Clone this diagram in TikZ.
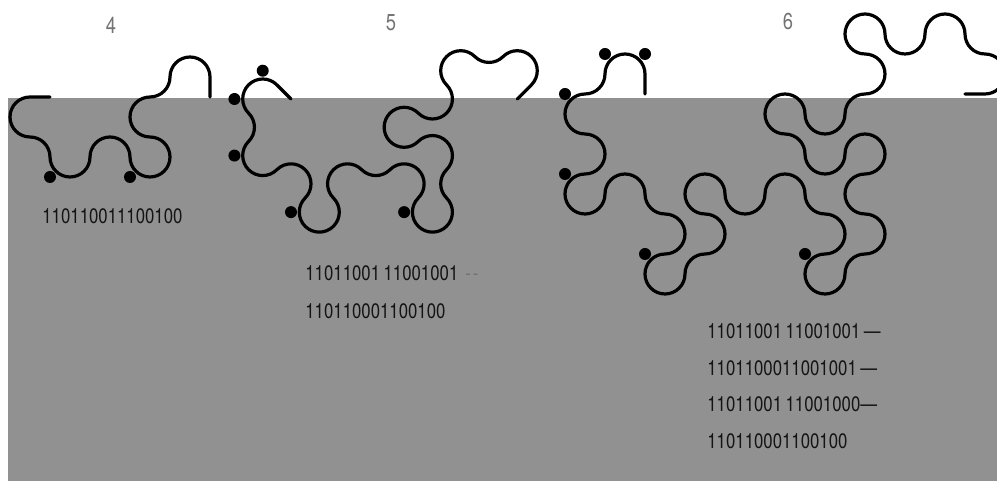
\documentclass[tikz,border=0pt]{standalone}
\usepackage{fontspec}
\newfontfamily\bitfont{TeX Gyre Heros}[FakeStretch=0.8]
\definecolor{paper}{gray}{0.57}
\tikzset{strip/.style={line width=1.6pt,rounded corners=10pt,line join=round,line cap=round},
 bits/.style={font=\bitfont\fontsize{10.5}{12}\selectfont,text=black!92,inner sep=0pt,anchor=west},
 ordno/.style={font=\bitfont\fontsize{11.5}{12}\selectfont,text=black!55,inner sep=0pt}}

\begin{document}
\begin{tikzpicture}[x=20pt,y=20pt]
\useasboundingbox(0,0)rectangle(24.925,12.025);\clip(0,0)rectangle(24.925,12.025);
\fill[paper](0.2,0)rectangle(24.925,9.575);
\node[ordno](lab4)at(2.775,11.4){4};\node[ordno](lab5)at(9.775,11.45){5};\node[ordno](lab6)at(19.7,11.475){6};
% order 4
\begin{scope}[shift={(1.25,9.6)},rotate=180]
\draw[strip](0,0)--(1,0)--(1,1)--(0,1)--(0,2)--(-1,2)--(-1,1)--(-2,1)--(-2,2)--(-3,2)--(-3,1)--(-2,1)--(-2,0)--(-3,0)--(-3,-1)--(-4,-1)--(-4,0);
\fill(0,2)circle(3pt)(-2,2)circle(3pt);
\end{scope}
\node[bits](bits4)at(1.05,6.625){110110011100100};
% order 5
\begin{scope}[shift={(7.275,9.55)},rotate=135]
\draw[strip](0,0)--(1,0)--(1,1)--(0,1)--(0,2)--(-1,2)--(-1,1)--(-2,1)--(-2,2)--(-3,2)--(-3,1)--(-2,1)--(-2,0)--(-3,0)--(-3,-1)--(-4,-1)--(-4,0)
 --(-5,0)--(-5,-1)--(-4,-1)--(-4,-2)--(-3,-2)--(-3,-1)--(-2,-1)--(-2,-2)--(-3,-2)--(-3,-3)--(-2,-3)--(-2,-4)--(-3,-4)--(-3,-5)--(-4,-5)--(-4,-4);
\fill(1,0)circle(3pt)(1,1)circle(3pt)(0,2)circle(3pt)(-2,2)circle(3pt)(-4,0)circle(3pt);
\end{scope}
\node[bits](bits5a)at(7.625,5.2){11011001\,11001001\kern3.5pt{\color{black!55}-\kern1pt-}};
\node[bits](bits5b)at(7.625,4.25){110110001100100};
% order 6
\begin{scope}[shift={(16.125,9.675)},rotate=90]
\draw[strip](0,0)--(1,0)--(1,1)--(0,1)--(0,2)--(-1,2)--(-1,1)--(-2,1)--(-2,2)--(-3,2)--(-3,1)--(-2,1)--(-2,0)--(-3,0)--(-3,-1)--(-4,-1)--(-4,0)
 --(-5,0)--(-5,-1)--(-4,-1)--(-4,-2)--(-3,-2)--(-3,-1)--(-2,-1)--(-2,-2)--(-3,-2)--(-3,-3)--(-2,-3)--(-2,-4)--(-3,-4)--(-3,-5)--(-4,-5)--(-4,-4)
 --(-5,-4)--(-5,-5)--(-4,-5)--(-4,-6)--(-3,-6)--(-3,-5)--(-2,-5)--(-2,-6)--(-1,-6)--(-1,-5)--(-2,-5)--(-2,-4)--(-1,-4)--(-1,-3)--(0,-3)--(0,-4)
 --(-1,-4)--(-1,-5)--(0,-5)--(0,-6)--(1,-6)--(1,-5)--(2,-5)--(2,-6)--(1,-6)--(1,-7)--(2,-7)--(2,-8)--(1,-8)--(1,-9)--(0,-9)--(0,-8);
\fill(1,0)circle(3pt)(1,1)circle(3pt)(0,2)circle(3pt)(-2,2)circle(3pt)(-4,0)circle(3pt)(-4,-4)circle(3pt);
\end{scope}
\node[bits](bits6a)at(17.675,3.75){11011001\,11001001\,\textemdash};
\node[bits](bits6b)at(17.675,2.825){1101100011001001\,\textemdash};
\node[bits](bits6c)at(17.675,1.925){11011001\,11001000\textemdash};
\node[bits](bits6d)at(17.675,1.0){110110001100100};
\end{tikzpicture}
\end{document}
